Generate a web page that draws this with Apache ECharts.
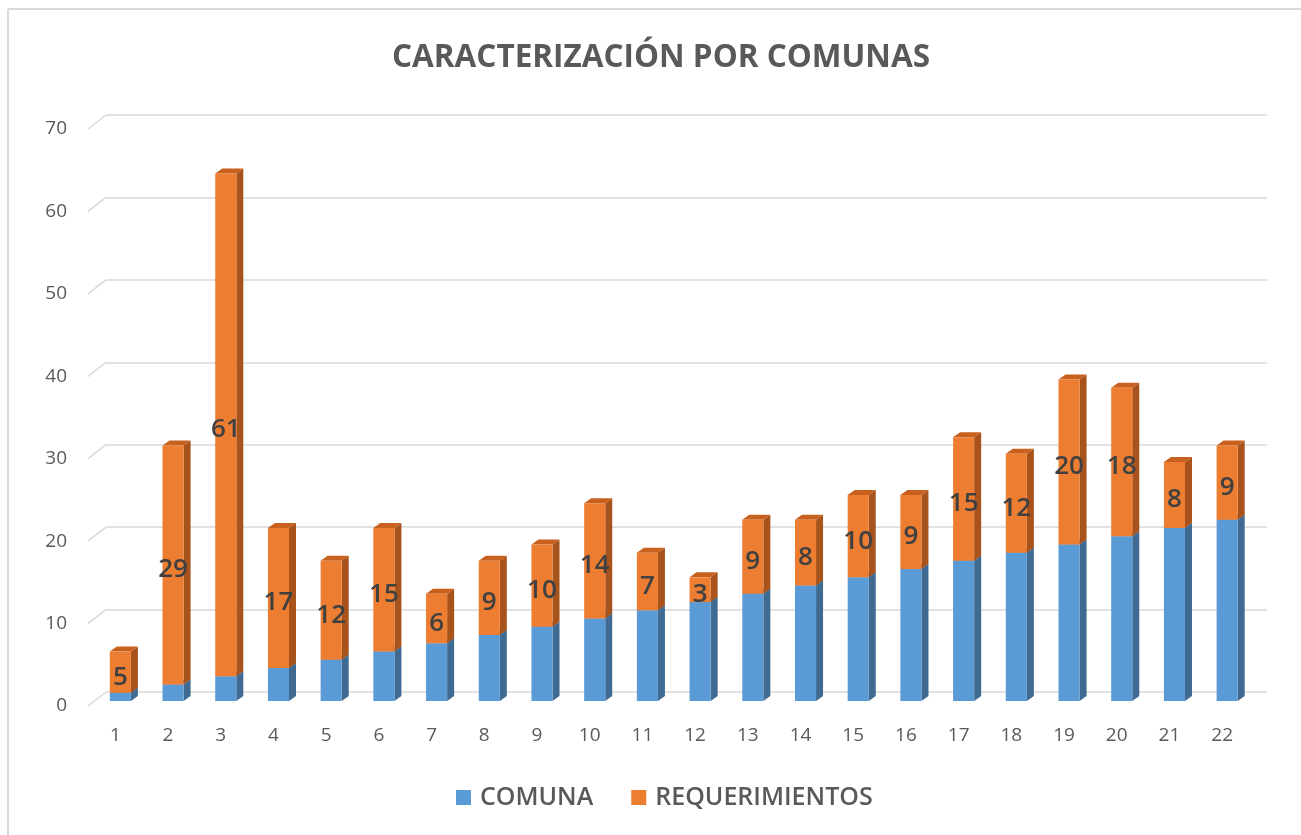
<!DOCTYPE html>
<html>
<head>
<meta charset="utf-8">
<script src="https://cdn.jsdelivr.net/npm/echarts@6/dist/echarts.min.js"></script>
<style>html,body{margin:0;padding:0;background:#fff}#c{width:1301px;height:835px}</style>
</head>
<body>
<div id="c"></div>
<script>
const categories = ['1','2','3','4','5','6','7','8','9','10','11','12','13','14','15','16','17','18','19','20','21','22'];
const comuna = [1,2,3,4,5,6,7,8,9,10,11,12,13,14,15,16,17,18,19,20,21,22];
const requerimientos = [5,29,61,17,12,15,6,9,10,14,7,3,9,8,10,9,15,12,20,18,8,9];
const yTicks = [0,10,20,30,40,50,60,70];

const FONT = '"Open Sans", "Liberation Sans", sans-serif';
const DEPTH_X = 7, DEPTH_Y = 5;

function make3D(front, side, top, showLabel) {
  return function (params, api) {
    const i = api.value(0), base = api.value(1), val = api.value(2);
    const pB = api.coord([i, base]);
    const pT = api.coord([i, base + val]);
    const w = api.size([1, 0])[0] * 0.4;
    const x0 = pB[0] - w / 2, x1 = pB[0] + w / 2;
    const yb = pB[1], yt = pT[1];
    const children = [
      { type: 'polygon', shape: { points: [[x1, yb], [x1 + DEPTH_X, yb - DEPTH_Y], [x1 + DEPTH_X, yt - DEPTH_Y], [x1, yt]] }, style: { fill: side } },
      { type: 'polygon', shape: { points: [[x0, yt], [x0 + DEPTH_X, yt - DEPTH_Y], [x1 + DEPTH_X, yt - DEPTH_Y], [x1, yt]] }, style: { fill: top } },
      { type: 'rect', shape: { x: x0, y: yt, width: x1 - x0, height: yb - yt }, style: { fill: front } }
    ];
    if (showLabel) {
      children.push({ type: 'text', z2: 100, style: { text: String(val), x: pB[0], y: (yb + yt) / 2 + 5, align: 'center', verticalAlign: 'middle', fill: '#404040', font: '600 26px ' + FONT } });
    }
    return { type: 'group', children: children };
  };
}

const chart = echarts.init(document.getElementById('c'));
chart.setOption({
  backgroundColor: '#fff',
  animation: false,
  title: {
    text: 'CARACTERIZACIÓN POR COMUNAS',
    left: 387, top: 37,
    textStyle: { fontFamily: FONT, fontSize: 31.5, fontWeight: 'bold', color: '#595959' }
  },
  legend: {
    bottom: 20, left: 451, itemGap: 38, itemWidth: 15, itemHeight: 15,
    icon: 'rect',
    textStyle: { fontFamily: FONT, fontSize: 25, fontWeight: 600, color: '#595959', padding: [0, 0, 0, 4] },
    data: ['COMUNA', 'REQUERIMIENTOS']
  },
  graphic: [
    { type: 'line', shape: { x1: 8, y1: 9, x2: 1301, y2: 9 }, style: { stroke: '#D9D9D9', lineWidth: 2 } },
    { type: 'line', shape: { x1: 8, y1: 9, x2: 8, y2: 835 }, style: { stroke: '#D9D9D9', lineWidth: 2 } }
  ],
  grid: [
    { left: 94, right: 47.5, top: 124, bottom: 134 },
    { left: 106, right: 34, top: 115, bottom: 143 }
  ],
  xAxis: [
    { type: 'category', gridIndex: 0, data: categories,
      axisLine: { show: false }, axisTick: { show: false },
      axisLabel: { margin: 25, color: '#595959', fontFamily: FONT, fontSize: 19, padding: [0, 10, 0, 0] } },
    { type: 'value', gridIndex: 1, min: 0, max: 1, show: false }
  ],
  yAxis: [
    { type: 'value', gridIndex: 0, min: 0, max: 70, interval: 10,
      axisLine: { show: false }, axisTick: { show: false }, splitLine: { show: false },
      axisLabel: { margin: 27, color: '#595959', fontFamily: FONT, fontSize: 19, verticalAlign: 'top', lineHeight: 10 } },
    { type: 'value', gridIndex: 1, min: 0, max: 70, interval: 10,
      axisLine: { show: false }, axisTick: { show: false }, axisLabel: { show: false },
      splitLine: { lineStyle: { color: '#D9D9D9', width: 1.5 } } }
  ],
  series: [
    { name: 'diag', type: 'custom', xAxisIndex: 1, yAxisIndex: 1, silent: true,
      data: yTicks.map(v => [0, v]),
      renderItem: function (params, api) {
        const p = api.coord([0, api.value(1)]);
        return { type: 'line', shape: { x1: p[0] - 18, y1: p[1] + 14, x2: p[0], y2: p[1] }, style: { stroke: '#D9D9D9', lineWidth: 1.5 } };
      } },
    { name: 'COMUNA', type: 'custom', xAxisIndex: 0, yAxisIndex: 0,
      itemStyle: { color: '#5B9BD5' },
      data: comuna.map((v, i) => [i, 0, v]),
      renderItem: make3D('#5B9BD5', '#3F6A91', '#4A84B8', false) },
    { name: 'REQUERIMIENTOS', type: 'custom', xAxisIndex: 0, yAxisIndex: 0,
      itemStyle: { color: '#ED7D31' },
      data: requerimientos.map((v, i) => [i, comuna[i], v]),
      renderItem: make3D('#ED7D31', '#A9531C', '#C8601E', true) }
  ]
});
</script>
</body>
</html>
